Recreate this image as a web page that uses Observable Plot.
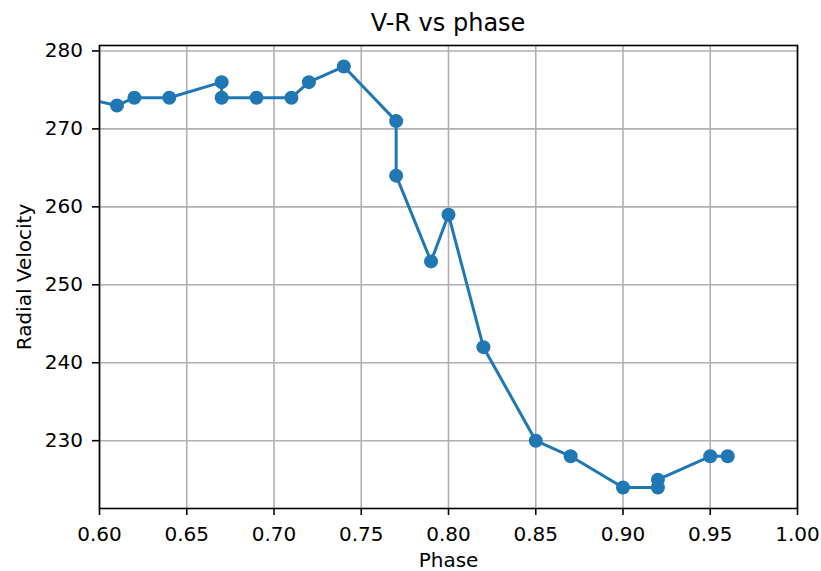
<!DOCTYPE html>
<html>
<head>
<meta charset="utf-8">
<script src="https://cdn.jsdelivr.net/npm/d3@7"></script>
<script src="https://cdn.jsdelivr.net/npm/@observablehq/plot@0.6"></script>
<style>
  html, body { margin: 0; padding: 0; background: white; }
  #wrap { width: 821px; height: 571px; overflow: hidden; }
  #title {
    box-sizing: border-box;
    height: 40px;
    padding: 10px 24px 0 99px;
    font-family: "DejaVu Sans", sans-serif;
    font-size: 24px;
    line-height: 1.164em;
    text-align: center;
    color: #000;
    white-space: nowrap;
  }
</style>
</head>
<body>
<div id="wrap">
  <div id="title">V-R vs phase</div>
  <div id="chart"></div>
</div>
<script>
const phase = [0.59, 0.61, 0.62, 0.64, 0.67, 0.67, 0.69, 0.71, 0.72, 0.74, 0.77, 0.77, 0.79, 0.80, 0.82, 0.85, 0.87, 0.90, 0.92, 0.92, 0.95, 0.96];
const velocity = [274, 273, 274, 274, 276, 274, 274, 274, 276, 278, 271, 264, 253, 259, 242, 230, 228, 224, 224, 225, 228, 228];
const xTicks = [0.60, 0.65, 0.70, 0.75, 0.80, 0.85, 0.90, 0.95, 1.00];
const yTicks = [230, 240, 250, 260, 270, 280];

const data = phase.map((p, i) => ({phase: p, velocity: velocity[i]}));
const color = "#1f77b4";

const chart = Plot.plot({
  width: 821,
  height: 531,
  marginTop: 5,
  marginBottom: 63,
  marginLeft: 99,
  marginRight: 24,
  style: {fontFamily: "DejaVu Sans, sans-serif", fontSize: "20px", color: "#000", background: "white", overflow: "visible"},
  x: {domain: [0.6, 1.0]},
  y: {domain: [221.3, 280.7]},
  marks: [
    Plot.gridX(xTicks, {stroke: "#b0b0b0", strokeOpacity: 1, strokeWidth: 1.6}),
    Plot.gridY(yTicks, {stroke: "#b0b0b0", strokeOpacity: 1, strokeWidth: 1.6}),
    Plot.line(data, {x: "phase", y: "velocity", stroke: color, strokeWidth: 3, clip: true}),
    Plot.dot(data, {x: "phase", y: "velocity", r: 7, fill: color, stroke: "none", clip: true}),
    Plot.frame({stroke: "#000", strokeWidth: 1.6}),
    Plot.axisX(xTicks, {
      tickFormat: d3.format(".2f"), tickSize: 7, tickPadding: 11, strokeWidth: 1.6,
      label: "Phase", labelAnchor: "center", labelArrow: "none", labelOffset: 58
    }),
    Plot.axisY(yTicks, {
      tickSize: 7, tickPadding: 9.5, strokeWidth: 1.6,
      label: "Radial Velocity", labelAnchor: "center", labelArrow: "none", labelOffset: 83
    })
  ]
});
document.getElementById("chart").appendChild(chart);
</script>
</body>
</html>
